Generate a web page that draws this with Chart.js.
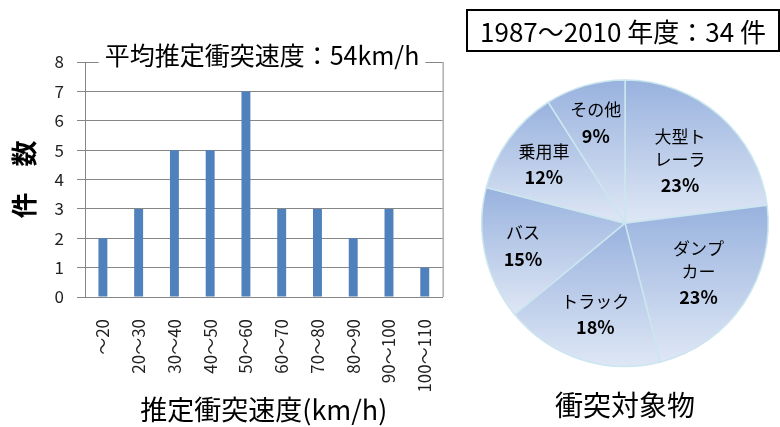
<!DOCTYPE html>
<html>
<head>
<meta charset="utf-8">
<script src="https://cdn.jsdelivr.net/npm/chart.js@4.4.1/dist/chart.umd.min.js"></script>
<style>
  html, body { margin: 0; padding: 0; background: #fff; }
  #wrap { position: relative; width: 780px; height: 427px; overflow: hidden; font-family: 'Noto Sans CJK JP', sans-serif; }
  #bar { position: absolute; left: 0; top: 0; }
  #pie { position: absolute; left: 460px; top: 0; }
  #box {
    position: absolute; left: 466px; top: 9px; width: 310px; height: 39px;
    border: 2px solid #000; font-size: 26px; line-height: 39px; text-align: center; color: #000;
  }
</style>
</head>
<body>
<div id="wrap">
  <canvas id="bar" width="460" height="427"></canvas>
  <canvas id="pie" width="320" height="427"></canvas>
  <div id="box">1987～2010 年度：34 件</div>
</div>
<script>
const FONT = "'Noto Sans CJK JP', sans-serif"

// left chart: 推定衝突速度ごとの件数
const speedLabels = ['～20', '20～30', '30～40', '40～50', '50～60', '60～70', '70～80', '80～90', '90～100', '100～110']
const speedCounts = [2, 3, 5, 5, 7, 3, 3, 2, 3, 1]
const barTitle = '平均推定衝突速度：54km/h'

// right chart: 衝突対象物 (percent)
const targetLabels = [['大型ト', 'レーラ'], ['ダンプ', 'カー'], ['トラック'], ['バス'], ['乗用車'], ['その他']]
const targetShares = [23, 23, 18, 15, 12, 9]

// white-backed title sitting on top of the plot frame
const boxTitle = {
  id: 'boxTitle',
  afterDraw(chart, args, opts) {
    const ctx = chart.ctx
    ctx.save()
    ctx.font = opts.font
    const w = ctx.measureText(opts.text).width
    ctx.fillStyle = '#fff'
    ctx.fillRect(opts.x - w / 2 - 6, opts.y - 17, w + 12, 32)
    ctx.fillStyle = '#000'
    ctx.textAlign = 'center'
    ctx.textBaseline = 'middle'
    ctx.fillText(opts.text, opts.x, opts.y)
    ctx.restore()
  }
}

// right edge of plot area
const frame = {
  id: 'frame',
  beforeDatasetsDraw(chart) {
    const { ctx, chartArea: a } = chart
    ctx.save()
    ctx.strokeStyle = '#868686'
    ctx.lineWidth = 1
    ctx.beginPath()
    ctx.moveTo(a.right + 0.5, a.top)
    ctx.lineTo(a.right + 0.5, a.bottom)
    ctx.stroke()
    ctx.restore()
  }
}

new Chart(document.getElementById('bar'), {
  type: 'bar',
  data: {
    labels: speedLabels,
    datasets: [{
      data: speedCounts,
      backgroundColor: '#4f81bd',
      barPercentage: 0.5,
      categoryPercentage: 0.5
    }]
  },
  options: {
    responsive: false,
    animation: false,
    layout: { padding: { top: 62, right: 17, bottom: 0, left: 0 } },
    plugins: {
      legend: { display: false },
      tooltip: { enabled: false },
      boxTitle: { text: barTitle, x: 262, y: 55, font: '25px ' + FONT }
    },
    scales: {
      x: {
        grid: { display: false },
        border: { color: '#868686' },
        ticks: { minRotation: 90, maxRotation: 90, padding: 14, color: '#222', font: { family: FONT, size: 17 } },
        title: { display: true, text: '推定衝突速度(km/h)', color: '#000', font: { family: FONT, size: 27 }, padding: { top: 0, bottom: 1 } },
        afterFit(s) { s.height = 130 }
      },
      y: {
        min: 0,
        max: 8,
        ticks: { stepSize: 1, padding: 13, color: '#222', font: { family: FONT, size: 17 } },
        grid: { color: '#868686', tickLength: 8 },
        border: { color: '#868686' },
        title: { display: true, text: '件　数', color: '#000', font: { family: FONT, size: 26, weight: 'bold' }, padding: { top: 9, bottom: 0 } },
        afterFit(s) { s.width = 85 }
      }
    }
  },
  plugins: [frame, boxTitle]
})

// vertical gradient over each slice's own extent
function sliceFill(c) {
  const chart = c.chart
  const a = chart.chartArea
  if (!a || c.dataIndex === undefined) return '#a9bfe5'
  const data = c.dataset.data
  const total = data.reduce((s, v) => s + v, 0)
  let before = 0
  for (let k = 0; k < c.dataIndex; k++) before += data[k]
  const cy = (a.top + a.bottom) / 2
  const r = Math.min(a.width, a.height) / 2
  const start = -Math.PI / 2 + 2 * Math.PI * before / total
  const end = start + 2 * Math.PI * data[c.dataIndex] / total
  let ymin = cy, ymax = cy
  for (let k = 0; k <= 60; k++) {
    const y = cy + r * Math.sin(start + (end - start) * k / 60)
    ymin = Math.min(ymin, y)
    ymax = Math.max(ymax, y)
  }
  const g = chart.ctx.createLinearGradient(0, ymin, 0, ymax)
  g.addColorStop(0, '#98b2de')
  g.addColorStop(1, '#dfe7f5')
  return g
}

// names + percentages inside slices
const sliceLabels = {
  id: 'sliceLabels',
  afterDatasetsDraw(chart, args, opts) {
    const ctx = chart.ctx
    const meta = chart.getDatasetMeta(0)
    const data = chart.data.datasets[0].data
    const total = data.reduce((s, v) => s + v, 0)
    ctx.save()
    ctx.textAlign = 'center'
    ctx.textBaseline = 'middle'
    ctx.fillStyle = '#000'
    meta.data.forEach((arc, i) => {
      const { x, y, startAngle, endAngle, outerRadius } = arc.getProps(['x', 'y', 'startAngle', 'endAngle', 'outerRadius'], true)
      const mid = (startAngle + endAngle) / 2
      const r = outerRadius * opts.radius[i]
      const cx = x + Math.cos(mid) * r
      const cy = y + Math.sin(mid) * r
      const lines = chart.data.labels[i]
      const n = lines.length
      const h = (n - 1) * 23 + 26
      const ty = cy - h / 2
      ctx.font = '17px ' + FONT
      lines.forEach((t, j) => ctx.fillText(t, cx, ty + j * 23))
      ctx.font = 'bold 18px ' + FONT
      ctx.fillText(Math.round(data[i] / total * 100) + '%', cx, ty + (n - 1) * 23 + 26)
    })
    ctx.restore()
  }
}

new Chart(document.getElementById('pie'), {
  type: 'pie',
  data: {
    labels: targetLabels,
    datasets: [{
      data: targetShares,
      backgroundColor: sliceFill,
      borderColor: '#cbe6ef',
      borderWidth: 1.5
    }]
  },
  options: {
    responsive: false,
    animation: false,
    layout: { padding: { top: 79, right: 11, bottom: 0, left: 21 } },
    plugins: {
      legend: { display: false },
      tooltip: { enabled: false },
      title: {
        display: true,
        position: 'bottom',
        text: '衝突対象物',
        color: '#000',
        font: { family: FONT, size: 28, weight: 'normal' },
        padding: { top: 21, bottom: 5 }
      },
      sliceLabels: { radius: [0.58, 0.62, 0.67, 0.73, 0.7, 0.73] }
    }
  },
  plugins: [sliceLabels]
})
</script>
</body>
</html>
